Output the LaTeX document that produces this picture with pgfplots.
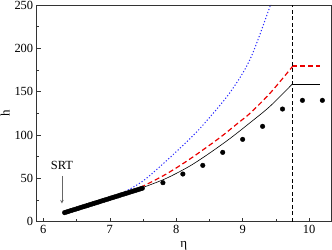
\documentclass[border=0pt]{standalone}
\usepackage{fontspec}
\setmainfont{Liberation Serif}
\newfontfamily\timesf{Liberation Serif}
\usepackage{pgfplots}
\pgfplotsset{compat=1.18}
\usetikzlibrary{calc}
\definecolor{myred}{RGB}{235,0,0}
\definecolor{myblue}{RGB}{40,40,255}
\begin{document}
\begin{tikzpicture}[font=\timesf\fontsize{12.5}{14}\selectfont]
\begin{axis}[
  scale only axis,
  width=294.3bp, height=216.7bp,
  xmin=5.9, xmax=10.33, ymin=0, ymax=250,
  xtick={6,7,8,9,10}, ytick={0,50,100,150,200,250},
  minor x tick num=1, minor y tick num=1,
  tick align=inside, xtick pos=left, ytick pos=left,
  major tick length=4bp, minor tick length=2.5bp,
  /pgf/number format/assume math mode=true,
  tick label style={font=\timesf\fontsize{12.5}{14}\selectfont},
  label style={font=\timesf\fontsize{13}{14}\selectfont},
  xlabel={η}, ylabel={h},
  xlabel style={at={(ticklabel cs:0.5)}, anchor=north, yshift=-1bp},
  ylabel style={at={(ticklabel cs:0.5)}, anchor=south, yshift=-2bp},
  axis line style={black!80, line width=0.6pt},
  every tick/.style={black!80, line width=0.5pt},
  clip=true,
]
% experimental points
\addplot[only marks, mark=*, mark size=2.3bp, black] coordinates {
(6.32,10.5)(6.35,11.2)(6.38,11.9)(6.41,12.7)(6.44,13.4)(6.47,14.1)(6.50,14.8)(6.53,15.5)
(6.56,16.3)(6.59,17.0)(6.62,17.7)(6.65,18.4)(6.68,19.1)(6.71,19.9)(6.74,20.6)(6.77,21.3)
(6.80,22.0)(6.83,22.7)(6.86,23.5)(6.89,24.2)(6.92,24.9)(6.95,25.6)(6.98,26.3)(7.01,27.1)
(7.04,27.8)(7.07,28.5)(7.10,29.2)(7.13,29.9)(7.16,30.7)(7.19,31.4)(7.22,32.1)(7.25,32.8)
(7.28,33.5)(7.31,34.3)(7.34,35.0)(7.37,35.7)(7.40,36.4)(7.43,37.1)(7.46,37.9)(7.49,38.6)
(7.8,45)(8.1,55)(8.4,65)(8.7,80)(9.0,95)(9.3,110)(9.6,130)(9.9,140)(10.2,140)
};
% black solid
\addplot[black, line width=0.6pt, smooth] coordinates {
(6.32,10.5)(6.7,19.5)(7.0,27)(7.25,33)(7.5,39.5)(7.85,50)(8.2,64)(8.5,79)(8.81,96)(9.1,113.5)(9.41,133)(9.75,159)
};
\addplot[black, line width=0.6pt] coordinates {(9.75,159)(10.17,159)};
% red dashed
\addplot[myred, line width=1.2pt, dash pattern=on 5bp off 3bp, smooth] coordinates {
(6.32,10.5)(7.0,27.2)(7.3,35)(7.5,41)(7.85,55)(8.2,72)(8.64,96)(8.95,115)(9.11,125)(9.41,148)(9.75,179)
};
\addplot[myred, line width=1.3pt, dash pattern=on 5bp off 3bp] coordinates {(9.75,179.6)(10.17,179.6)};
% blue dotted
\addplot[myblue, line width=1pt, dash pattern=on 1.2bp off 2bp, smooth] coordinates {
(6.32,10.5)(7.0,27.5)(7.2,33.5)(7.5,47)(7.82,68)(8.21,96)(8.42,113)(8.8,148)(9.11,187)(9.41,248)(9.45,258)
};
% vertical dashed line
\addplot[black, line width=0.6pt, dash pattern=on 4bp off 2.5bp] coordinates {(9.75,0)(9.75,250)};
% SRT annotation
\node[font=\timesf\fontsize{12.5}{14}\selectfont] at (axis cs:6.28,65) {SRT};
\draw[-stealth, gray!80!black, line width=0.6pt] (axis cs:6.28,53) -- (axis cs:6.28,21);
\end{axis}
\pgfresetboundingbox
\path ($(current axis.south west)+(-36.7bp,-28.3bp)$) rectangle ($(current axis.north east)+(1bp,5bp)$);
\end{tikzpicture}
\end{document}
